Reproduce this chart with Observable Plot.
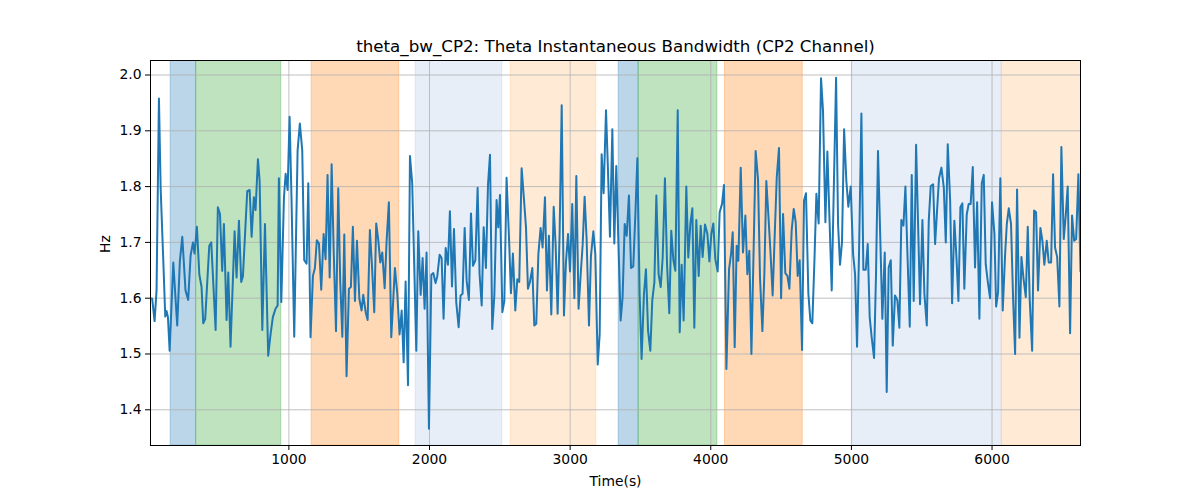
<!DOCTYPE html>
<html>
<head>
<meta charset="utf-8">
<script src="https://cdn.jsdelivr.net/npm/d3@7"></script>
<script src="https://cdn.jsdelivr.net/npm/@observablehq/plot@0.6"></script>
<style>
  html, body { margin: 0; padding: 0; background: #fff; }
  #chart { width: 1200px; height: 500px; }
</style>
</head>
<body>
<div id="chart"></div>
<script>
const titleText = "theta_bw_CP2: Theta Instantaneous Bandwidth (CP2 Channel)";
const xLabel = "Time(s)";
const yLabel = "Hz";
const xTicks = [1000, 2000, 3000, 4000, 5000, 6000];
const yTicks = [1.4, 1.5, 1.6, 1.7, 1.8, 1.9, 2.0];

const time = [
  16,28,45,59,76,88,107,121,130,140,152,178,206,225,242,265,284,301,318,329,346,363,379,391,405,434,448,479,495,510,526,538,557,569,585,614,628,645,661,673,704,721,735,751,763,780,792,811,830,853,
  870,886,905,920,929,946,965,977,991,1005,1019,1038,1062,1078,1095,1109,1126,1138,1154,1171,1185,1199,1214,1230,1247,1261,1275,1290,1304,1318,1335,1351,1365,1380,1394,1410,1427,1441,1455,1470,1484,1501,1517,1529,1546,1560,1576,1591,1607,1621,1636,1650,1664,1681,
  1695,1711,1728,1754,1771,1787,1802,1816,1830,1847,1861,1877,1906,1920,1937,1951,1965,1979,1996,2013,2027,2043,2055,2072,2086,2100,2115,2131,2145,2160,2174,2190,2207,2221,2235,2250,2264,2280,2295,2309,2326,2342,2356,2371,2385,2401,2416,2430,2446,2461,2477,2489,2501,
  2518,2532,2548,2565,2579,2593,2610,2624,2638,2655,2672,2686,2700,2714,2731,2745,2759,2774,2790,2804,2821,2835,2849,2866,2883,2897,2911,2925,2940,2956,2970,2985,2999,3015,3030,3044,3060,3075,3089,3103,3117,3134,3148,3165,3179,3196,3210,3224,3238,3255,3269,3283,3300,3314,
  3328,3359,3373,3388,3402,3418,3433,3449,3463,3478,3494,3508,3525,3539,3554,3570,3584,3599,3613,3629,3644,3658,3674,3689,3705,3719,3734,3748,3765,3779,3793,3807,3826,3840,3855,3869,3883,3897,3914,3928,3942,3959,3976,3990,4004,4018,4032,4049,4063,4080,4094,4111,
  4130,4144,4156,4170,4184,4196,4213,4229,4246,4260,4274,4289,4305,4319,4336,4350,4367,4381,4395,4409,4424,4440,4455,4469,4485,4500,4514,4530,4545,4559,4575,4590,4604,4618,4632,4649,4663,4677,4694,4708,4722,4737,4751,4767,4784,4798,4815,4829,4846,4860,4874,4891,4905,4919,4933,4948,
  4964,4978,4995,5012,5026,5040,5054,5071,5085,5102,5116,5130,5144,5161,5175,5189,5204,5220,5237,5251,5265,5280,5294,5310,5327,5341,5355,5370,5384,5400,5415,5429,5443,5460,5474,5488,5505,5519,5536,5550,5564,5581,5595,5609,5623,5640,5657,5671,5685,5702,5716,5732,5747,5761,
  5775,5789,5803,5820,5834,5848,5863,5879,5894,5910,5927,5941,5955,5969,5986,6000,6017,6029,6043,6059,6076,6093,6105,6119,6135,6150,6164,6178,6195,6209,6223,6240,6254,6268,6285,6299,6313,6327,6344,6358,6372,6389,6403,6420,6434,6448,6463,6479,6493,6510,6524,6538,6555,6569,6584,6598,6614,6629
];

const bandwidth = [
  1.600,1.599,1.559,1.614,1.958,1.798,1.667,1.567,1.577,1.566,1.506,1.664,1.551,1.667,1.710,1.614,1.597,1.676,1.700,1.680,1.728,1.643,1.620,1.555,1.563,1.694,1.700,1.543,1.763,1.751,1.649,1.733,1.561,1.646,1.513,1.720,1.637,1.739,1.629,1.639,1.792,1.794,1.710,1.781,1.758,1.849,1.810,1.543,1.733,1.497,
  1.536,1.566,1.581,1.587,1.815,1.593,1.781,1.823,1.794,1.925,1.775,1.531,1.865,1.913,1.865,1.668,1.662,1.806,1.530,1.640,1.654,1.704,1.698,1.615,1.715,1.670,1.821,1.637,1.840,1.691,1.541,1.797,1.631,1.531,1.714,1.460,1.617,1.620,1.728,1.595,1.703,1.599,1.578,1.606,1.575,1.561,1.722,1.657,1.575,1.734,1.703,1.664,1.682,1.618,
  1.703,1.772,1.530,1.654,1.608,1.535,1.578,1.485,1.630,1.444,1.855,1.806,1.506,1.720,1.606,1.672,1.581,1.682,1.366,1.642,1.645,1.627,1.639,1.678,1.672,1.563,1.690,1.660,1.756,1.621,1.724,1.593,1.548,1.605,1.608,1.726,1.631,1.597,1.752,1.658,1.668,1.798,1.643,1.587,1.727,1.654,1.804,1.857,1.545,1.605,1.776,1.727,1.785,
  1.575,1.595,1.816,1.709,1.609,1.680,1.578,1.634,1.629,1.833,1.776,1.727,1.617,1.629,1.654,1.551,1.554,1.679,1.726,1.691,1.781,1.614,1.712,1.571,1.764,1.694,1.572,1.715,1.946,1.569,1.664,1.715,1.648,1.769,1.600,1.819,1.581,1.643,1.696,1.782,1.706,1.551,1.676,1.720,1.679,1.481,1.536,1.858,1.788,1.937,1.829,1.710,1.903,1.698,
  1.837,1.560,1.602,1.733,1.712,1.784,1.654,1.657,1.745,1.851,1.608,1.491,1.608,1.652,1.542,1.506,1.596,1.629,1.784,1.643,1.620,1.673,1.815,1.661,1.573,1.721,1.668,1.649,1.937,1.539,1.660,1.560,1.800,1.673,1.734,1.761,1.547,1.740,1.640,1.730,1.674,1.732,1.715,1.666,1.715,1.734,1.670,1.648,1.754,1.769,1.803,1.473,
  1.652,1.679,1.718,1.512,1.694,1.667,1.834,1.682,1.748,1.643,1.685,1.500,1.691,1.864,1.813,1.637,1.541,1.643,1.810,1.751,1.685,1.605,1.715,1.816,1.869,1.600,1.751,1.645,1.640,1.617,1.721,1.760,1.736,1.640,1.668,1.507,1.775,1.788,1.608,1.560,1.555,1.667,1.787,1.734,1.994,1.936,1.736,1.863,1.727,1.614,1.787,1.995,1.733,1.660,1.700,1.903,
  1.810,1.764,1.800,1.679,1.643,1.513,1.679,1.931,1.651,1.651,1.697,1.566,1.530,1.493,1.643,1.864,1.721,1.563,1.682,1.432,1.655,1.668,1.515,1.605,1.596,1.547,1.740,1.730,1.800,1.667,1.549,1.821,1.595,1.875,1.733,1.589,1.740,1.608,1.551,1.739,1.801,1.804,1.697,1.757,1.815,1.834,1.798,1.700,1.876,1.775,1.591,1.739,1.673,1.595,
  1.763,1.770,1.617,1.750,1.769,1.769,1.835,1.655,1.772,1.563,1.806,1.821,1.661,1.631,1.600,1.772,1.715,1.585,1.611,1.815,1.578,1.679,1.733,1.761,1.733,1.597,1.500,1.795,1.529,1.674,1.637,1.602,1.728,1.597,1.506,1.757,1.754,1.614,1.726,1.703,1.660,1.703,1.664,1.664,1.822,1.691,1.674,1.585,1.871,1.706,1.748,1.800,1.537,1.748,1.703,1.706,1.822,1.648
];

// Shaded epochs
const spanStart = [159, 341, 1162, 1901, 2577, 3345, 3487, 4101, 5007, 6069];
const spanEnd   = [341, 946, 1785, 2518, 3186, 3487, 4047, 4654, 6069, 6700];
const spanKind  = ["A", "B", "C", "D", "E", "A", "B", "C", "D", "E"];
const kindDomain = ["A", "B", "C", "D", "E"];
const kindColors = ["#1f77b4", "#2ca02c", "#ff7f0e", "#aec7e8", "#ffbb78"];

if (time.length !== bandwidth.length) console.error("length mismatch", time.length, bandwidth.length);

const series = time.map((t, i) => ({t, v: bandwidth[i]}));
const spans = spanStart.map((s, i) => ({s, e: spanEnd[i], k: spanKind[i]}));

const chart = Plot.plot({
  width: 1200,
  height: 500,
  marginLeft: 150,
  marginRight: 120,
  marginTop: 60,
  marginBottom: 55,
  style: {fontFamily: "DejaVu Sans, sans-serif", fontSize: "13.9px", color: "#000", background: "#fff"},
  x: {domain: [16, 6629], label: null},
  y: {domain: [1.336, 2.026], label: null},
  color: {domain: kindDomain, range: kindColors},
  marks: [
    Plot.rect(spans, {x1: "s", x2: "e", fill: "k", fillOpacity: 0.3, stroke: "k", strokeOpacity: 0.3, strokeWidth: 1, clip: true}),
    Plot.gridX(xTicks, {stroke: "#b0b0b0", strokeOpacity: 1, strokeWidth: 0.8}),
    Plot.gridY(yTicks, {stroke: "#b0b0b0", strokeOpacity: 1, strokeWidth: 0.8}),
    Plot.line(series, {x: "t", y: "v", stroke: "#1f77b4", strokeWidth: 2, clip: true}),
    Plot.axisX(xTicks, {tickSize: 5, tickPadding: 4, stroke: "#000", fill: "#000", label: null, tickFormat: "d", fontSize: 13.9}),
    Plot.axisY(yTicks, {tickSize: 5, tickPadding: 4, stroke: "#000", fill: "#000", label: null, tickFormat: ".1f", fontSize: 13.9}),
    Plot.frame({stroke: "#000", strokeWidth: 1}),
    Plot.text([titleText], {frameAnchor: "top", dy: -14, lineAnchor: "middle", fontSize: 16.7, fill: "#000"}),
    Plot.text([xLabel], {frameAnchor: "bottom", dy: 36, lineAnchor: "middle", fontSize: 13.9, fill: "#000"}),
    Plot.text([yLabel], {frameAnchor: "left", dx: -45, rotate: -90, lineAnchor: "middle", fontSize: 13.9, fill: "#000"})
  ]
});
document.getElementById("chart").appendChild(chart);
</script>
</body>
</html>
